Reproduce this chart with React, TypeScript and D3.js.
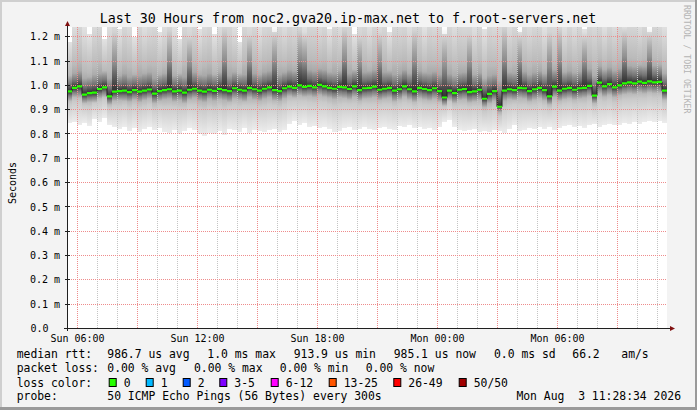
import React from 'react';
import * as d3 from 'd3';

// SmokePing style latency chart (30 hours, 15 min columns)
const title = 'Last 30 Hours from noc2.gva20.ip-max.net to f.root-servers.net';
const startTime = new Date(2026, 7, 2, 5, 28, 30);
const endTime = new Date(2026, 7, 3, 11, 28, 30);
const stepMinutes = 15;

// values in microseconds, one per column
const medianUs = [
  975, 990, 996, 962, 968, 970, 985, 992, 955, 974,
  976, 978, 972, 980, 974, 978, 983, 966, 976, 980,
  984, 975, 978, 970, 982, 986, 978, 974, 982, 977,
  985, 980, 976, 988, 982, 978, 990, 984, 978, 986,
  992, 980, 976, 988, 995, 990, 1000, 994, 998, 992,
  1002, 996, 990, 986, 994, 992, 985, 996, 980, 988,
  990, 995, 982, 986, 990, 978, 984, 996, 984, 975,
  990, 985, 980, 988, 976, 950, 978, 968, 982, 985,
  972, 975, 982, 945, 965, 976, 912, 978, 984, 980,
  990, 988, 976, 984, 990, 980, 955, 995, 978, 986,
  990, 982, 988, 990, 998, 958, 1011, 996, 1005, 992,
  1000, 1008, 1012, 1008, 1015, 1010, 1016, 1012, 1014, 978,
];
const q1Us = [
  935, 950, 948, 925, 930, 928, 945, 950, 920, 935,
  938, 935, 932, 940, 930, 938, 945, 925, 935, 942,
  945, 932, 938, 925, 940, 948, 935, 930, 944, 936,
  942, 938, 930, 945, 940, 932, 950, 940, 935, 944,
  950, 936, 934, 945, 955, 948, 958, 952, 955, 950,
  960, 952, 948, 942, 950, 946, 940, 952, 935, 944,
  946, 950, 938, 944, 948, 932, 940, 952, 940, 930,
  945, 940, 936, 944, 930, 915, 935, 925, 938, 942,
  928, 932, 938, 910, 925, 935, 890, 935, 942, 938,
  948, 944, 932, 940, 946, 936, 920, 950, 935, 942,
  946, 940, 944, 948, 955, 925, 965, 952, 960, 950,
  958, 962, 966, 962, 970, 965, 970, 966, 968, 940,
];
const q3Us = [
  1040, 1050, 1060, 1030, 1035, 1045, 1050, 1060, 1030, 1220,
  1040, 1050, 1035, 1045, 1040, 1050, 1055, 1030, 1045, 1050,
  1230, 1040, 1050, 1035, 1200, 1055, 1045, 1040, 1050, 1045,
  1055, 1240, 1040, 1055, 1050, 1045, 1210, 1050, 1045, 1055,
  1060, 1250, 1045, 1055, 1065, 1060, 1230, 1220, 1065, 1060,
  1070, 1065, 1055, 1050, 1060, 1240, 1050, 1065, 1200, 1055,
  1060, 1065, 1220, 1055, 1060, 1045, 1050, 1065, 1050, 1230,
  1060, 1055, 1050, 1058, 1045, 1240, 1048, 1040, 1052, 1055,
  1210, 1045, 1052, 1030, 1040, 1046, 1020, 1250, 1055, 1050,
  1230, 1058, 1045, 1054, 1060, 1050, 1220, 1065, 1240, 1055,
  1060, 1052, 1058, 1220, 1068, 1040, 1080, 1066, 1075, 1062,
  1070, 1250, 1082, 1078, 1085, 1080, 1240, 1082, 1084, 1050,
];
const minUs = [
  845, 850, 838, 846, 832, 860, 850, 866, 835, 828,
  822, 830, 812, 826, 808, 820, 830, 815, 824, 810,
  806, 815, 800, 812, 826, 818, 798, 792, 805, 800,
  812, 796, 820, 815, 810, 825, 806, 818, 812, 808,
  815, 822, 810, 818, 840, 852, 836, 845, 828, 832,
  826, 830, 820, 808, 812, 825, 830, 818, 822, 828,
  820, 815, 826, 830, 822, 818, 832, 828, 835, 826,
  830, 822, 825, 815, 828, 850, 858, 830, 818, 812,
  816, 822, 810, 814, 808, 815, 812, 805, 820, 835,
  812, 818, 825, 820, 828, 822, 830, 818, 825, 832,
  835, 828, 832, 826, 835, 840, 830, 838, 842, 835,
  838, 845, 840, 850, 842, 848, 855, 850, 852, 846,
];
const maxUs = [
  1180, 1260, 1300, 1240, 1210, 1280, 1300, 1190, 1260, 1300,
  1230, 1300, 1270, 1200, 1300, 1250, 1280, 1300, 1220, 1260,
  1300, 1240, 1190, 1300, 1270, 1300, 1230, 1280, 1300, 1210,
  1260, 1300, 1300, 1250, 1180, 1300, 1270, 1300, 1240, 1290,
  1300, 1220, 1300, 1260, 1300, 1280, 1300, 1240, 1300, 1300,
  1270, 1300, 1230, 1300, 1260, 1300, 1300, 1210, 1280, 1300,
  1250, 1300, 1270, 1300, 1220, 1300, 1290, 1300, 1250, 1300,
  1300, 1240, 1300, 1280, 1300, 1210, 1300, 1260, 1300, 1290,
  1300, 1250, 1300, 1230, 1300, 1280, 1300, 1300, 1260, 1300,
  1220, 1300, 1270, 1300, 1300, 1240, 1300, 1280, 1300, 1250,
  1300, 1260, 1300, 1230, 1300, 1290, 1300, 1250, 1300, 1270,
  1300, 1240, 1300, 1300, 1260, 1300, 1220, 1300, 1280, 1250,
];

const rttStats = ['986.7 us avg', '1.0 ms max', '913.9 us min', '985.1 us now', '0.0 ms sd', '66.2', 'am/s'];
const lossStats = ['0.00 % avg', '0.00 % max', '0.00 % min', '0.00 % now'];
const lossLabels = ['0', '1', '2', '3-5', '6-12', '13-25', '26-49', '50/50'];
const lossColors = ['#26ff00', '#00b8ff', '#0059ff', '#7e00ff', '#ff00ff', '#ff5500', '#ff0000', '#a10000'];
const probeText = '50 ICMP Echo Pings (56 Bytes) every 300s';
const stampText = 'Mon Aug  3 11:28:34 2026';

// layout
const W = 697, H = 410;
const left = 67, right = 667, bottom = 328.5, top = 27;
const rttX = [107.3, 207.3, 293.7, 393.7, 494, 572.3, 621.3];
const lossX = [107.3, 194, 279.7, 365.7];
const swatchX = [108.7, 145.7, 182.7, 219.3, 270.7, 328.7, 393.3, 458.7];
const mono = '"DejaVu Sans Mono", monospace';
const keepSpaces = (s) => s.replace(/ /g, '\u00a0');

const App = () => {
  const x = d3.scaleTime().domain([startTime, endTime]).range([left, right]);
  const y = d3.scaleLinear().domain([0, 1.24]).range([bottom, top]);
  const colTime = (i) => d3.timeMinute.offset(startTime, i * stepMinutes);
  const ms = (us) => us / 1000;

  const hours = d3.timeHour.range(startTime, endTime);
  const majorHours = hours.filter((d) => d.getHours() % 3 === 0);
  const labelHours = hours.filter((d) => d.getHours() % 6 === 0);
  const yTicks = y.ticks(12);
  const fmt = d3.timeFormat('%a %H:%M');
  const px = (v) => Math.floor(v) + 0.5;

  const cols = medianUs.map((m, i) => ({
    x0: x(colTime(i)),
    x1: x(colTime(i + 1)),
    med: y(ms(m)),
    lo: y(ms(minUs[i])),
    hi: y(ms(maxUs[i])),
    q1: y(ms(q1Us[i])),
    q3: y(ms(q3Us[i])),
  }));

  const last = cols[cols.length - 1];
  const stepLine = d3
    .line()
    .curve(d3.curveStepAfter)(cols.map((c) => [c.x0, c.med]).concat([[last.x1, last.med]]));

  return (
    <svg width={W} height={H} style={{ position: 'fixed', left: 0, top: 0 }} fontFamily={mono}>
      <defs>
        <linearGradient id="outerUp" x1="0" y1="1" x2="0" y2="0">
          <stop offset="0" stopColor="#8c8c8c" />
          <stop offset="0.35" stopColor="#bababa" />
          <stop offset="1" stopColor="#e2e2e2" />
        </linearGradient>
        <linearGradient id="outerDown" x1="0" y1="0" x2="0" y2="1">
          <stop offset="0" stopColor="#969696" />
          <stop offset="0.4" stopColor="#cacaca" />
          <stop offset="1" stopColor="#ececec" />
        </linearGradient>
        <linearGradient id="innerUp" x1="0" y1="1" x2="0" y2="0">
          <stop offset="0" stopColor="#000" stopOpacity="0.66" />
          <stop offset="0.45" stopColor="#000" stopOpacity="0.26" />
          <stop offset="1" stopColor="#000" stopOpacity="0" />
        </linearGradient>
        <linearGradient id="innerDown" x1="0" y1="0" x2="0" y2="1">
          <stop offset="0" stopColor="#000" stopOpacity="0.66" />
          <stop offset="0.45" stopColor="#000" stopOpacity="0.26" />
          <stop offset="1" stopColor="#000" stopOpacity="0" />
        </linearGradient>
        <clipPath id="plot">
          <rect x={left} y={top} width={right - left} height={bottom - top} />
        </clipPath>
      </defs>

      {/* background and frame */}
      <rect width={W} height={H} fill="#f3f3f3" />
      <rect x={0} y={0} width={W} height={2} fill="#cfcfcf" />
      <rect x={0} y={0} width={2} height={H} fill="#cfcfcf" />
      <rect x={W - 2} y={0} width={2} height={H} fill="#9a9a9a" />
      <rect x={0} y={H - 3} width={W} height={3} fill="#9a9a9a" />
      <rect x={left} y={top} width={right - left} height={bottom - top} fill="#fff" />

      {/* smoke */}
      <g clipPath="url(#plot)" shapeRendering="crispEdges">
        {cols.map((c, i) => (
          <g key={i}>
            <rect x={c.x0} y={c.hi} width={c.x1 - c.x0} height={c.med - c.hi} fill="url(#outerUp)" />
            <rect x={c.x0} y={c.med} width={c.x1 - c.x0} height={c.lo - c.med} fill="url(#outerDown)" />
            <rect x={c.x0} y={c.q3} width={c.x1 - c.x0} height={c.med - c.q3} fill="url(#innerUp)" />
            <rect x={c.x0} y={c.med} width={c.x1 - c.x0} height={c.q1 - c.med} fill="url(#innerDown)" />
          </g>
        ))}
      </g>

      {/* grid */}
      <g strokeWidth={1} strokeDasharray="1,1">
        {hours
          .filter((d) => d.getHours() % 3 !== 0)
          .map((d, i) => (
            <line key={'m' + i} x1={px(x(d))} x2={px(x(d))} y1={top} y2={bottom} stroke="#c4c4c4" />
          ))}
        {majorHours.map((d, i) => (
          <line key={'M' + i} x1={px(x(d))} x2={px(x(d))} y1={top} y2={bottom} stroke="#ee8c8c" />
        ))}
        {yTicks
          .filter((t) => t > 0)
          .map((t, i) => (
            <line key={'h' + i} x1={left} x2={right} y1={px(y(t))} y2={px(y(t))} stroke="#ee8c8c" />
          ))}
      </g>

      {/* median */}
      <g clipPath="url(#plot)">
        <path d={stepLine} fill="none" stroke="#202020" strokeWidth={1} />
        {cols.map((c, i) => (
          <line key={i} x1={c.x0} x2={c.x1} y1={c.med} y2={c.med} stroke={lossColors[0]} strokeWidth={2.2} />
        ))}
      </g>

      {/* axes */}
      <line x1={64} x2={670} y1={bottom} y2={bottom} stroke="#202020" />
      <path d={`M670,${bottom - 2.5}L675,${bottom}L670,${bottom + 2.5}Z`} fill="#801010" />
      <line x1={left + 0.5} x2={left + 0.5} y1={331} y2={26} stroke="#202020" />
      <path d={`M${left - 2},26L${left + 0.5},21L${left + 3},26Z`} fill="#801010" />
      {yTicks.map((t, i) => (
        <line key={i} x1={left - 2} x2={left + 3} y1={px(y(t))} y2={px(y(t))} stroke="#202020" />
      ))}

      {/* tick labels */}
      <g fontSize={10} fill="#000">
        {yTicks.map((t, i) => (
          <text key={i} x={t === 0 ? 48.5 : 60} y={y(t) + 3.6} textAnchor="end">
            {t === 0 ? '0.0' : `${t.toFixed(1)} m`}
          </text>
        ))}
        {labelHours.map((d, i) => (
          <text key={i} x={x(d)} y={341.5} textAnchor="middle">
            {fmt(d)}
          </text>
        ))}
        <text transform="translate(16,183) rotate(-90)" textAnchor="middle">
          Seconds
        </text>
      </g>

      <text x={348} y={23} fontSize={13.3} textAnchor="middle" fill="#000">
        {title}
      </text>
      <text transform="translate(683.5,5) rotate(90)" fontSize={8.2} fill="#b4b4b4">
        RRDTOOL / TOBI OETIKER
      </text>

      {/* legend */}
      <g fontSize={11.4} fill="#000">
        <text x={16.7} y={358.3}>median rtt:</text>
        {rttStats.map((s, i) => (
          <text key={i} x={rttX[i]} y={358.3}>
            {s}
          </text>
        ))}
        <text x={16.7} y={372.3}>packet loss:</text>
        {lossStats.map((s, i) => (
          <text key={i} x={lossX[i]} y={372.3}>
            {s}
          </text>
        ))}
        <text x={16.7} y={386.5}>loss color:</text>
        {lossLabels.map((s, i) => (
          <g key={i}>
            <rect x={swatchX[i] + 0.5} y={378.5} width={7} height={8} fill={lossColors[i]} stroke="#000" />
            <text x={swatchX[i] + 15} y={386.5}>
              {s}
            </text>
          </g>
        ))}
        <text x={16.7} y={400}>probe:</text>
        <text x={107.3} y={400}>{probeText}</text>
        <text x={681} y={400} textAnchor="end">
          {keepSpaces(stampText)}
        </text>
      </g>
    </svg>
  );
};

export default App;
